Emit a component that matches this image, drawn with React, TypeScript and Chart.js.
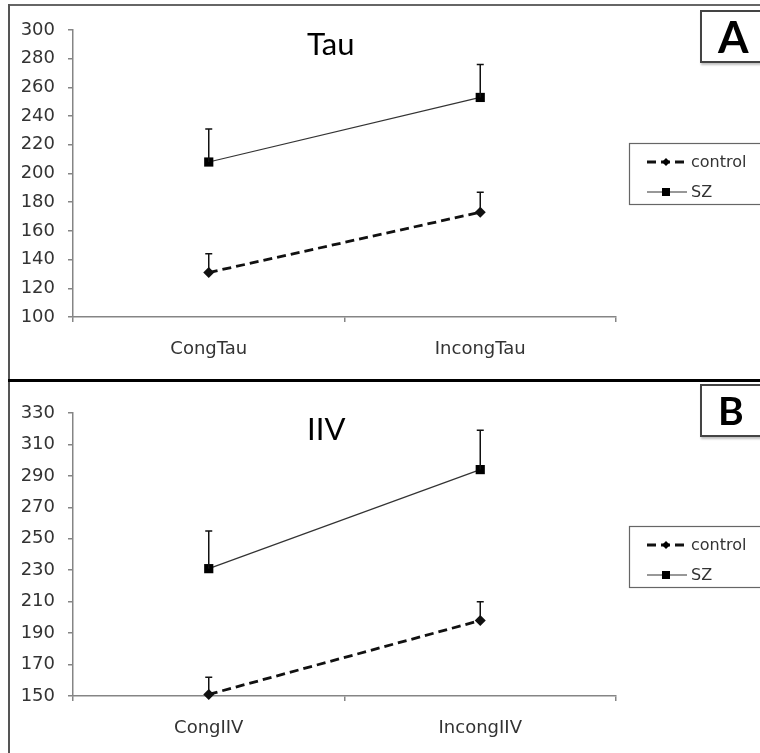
import React, { useEffect, useRef } from "react";
import { Chart, registerables } from "chart.js";

Chart.register(...registerables);

// ---- Panel A (Tau) ----
const categoriesA = ["CongTau", "IncongTau"];
const controlA = [131, 173];
const szA = [208, 253];
const controlErrA = [13, 14];
const szErrA = [23, 23];
const yTicksA = { min: 100, max: 300, step: 20 };

// ---- Panel B (IIV) ----
const categoriesB = ["CongIIV", "IncongIIV"];
const controlB = [151, 198];
const szB = [231, 294];
const controlErrB = [11, 12];
const szErrB = [24, 25];
const yTicksB = { min: 150, max: 330, step: 20 };

const seriesNames = ["control", "SZ"];

const TICK_FONT = { family: "'DejaVu Sans', sans-serif", size: 18 };
const TICK_COLOR = "#333";
const AXIS_COLOR = "#858585";

const errorBarPlugin = {
  id: "errorBars",
  afterDatasetsDraw(chart: any) {
    const ctx = chart.ctx;
    const xs = chart.scales.x;
    const ys = chart.scales.y;
    ctx.save();
    ctx.strokeStyle = "#111";
    ctx.lineWidth = 1.5;
    chart.data.datasets.forEach((ds: any) => {
      const errs = ds.errors || [];
      ds.data.forEach((v: number, i: number) => {
        const e = errs[i];
        if (e == null) return;
        const x = xs.getPixelForValue(i);
        const y0 = ys.getPixelForValue(v);
        const y1 = ys.getPixelForValue(v + e);
        ctx.beginPath();
        ctx.moveTo(x, y0);
        ctx.lineTo(x, y1);
        ctx.moveTo(x - 3.5, y1);
        ctx.lineTo(x + 3.5, y1);
        ctx.stroke();
      });
    });
    ctx.restore();
  },
};

const panelTextPlugin = {
  id: "panelText",
  afterDraw(chart: any, _args: any, opts: any) {
    const ctx = chart.ctx;
    const ca = chart.chartArea;
    ctx.save();
    // title
    ctx.fillStyle = "#000";
    ctx.font = "31px Lato, 'Open Sans', sans-serif";
    ctx.textAlign = "left";
    ctx.textBaseline = "alphabetic";
    ctx.fillText(opts.title, ca.left + 0.431 * (ca.right - ca.left), ca.top + opts.titleDy);

    // legend box
    const bx = ca.right + 13;
    const by = ca.top + 113;
    ctx.strokeStyle = "#666";
    ctx.lineWidth = 1.2;
    ctx.strokeRect(bx + 0.5, by + 0.5, 200, 61);

    const dsets = chart.data.datasets;
    const rows = [by + 19, by + 49];
    dsets.forEach((ds: any, k: number) => {
      const yy = rows[k];
      ctx.save();
      ctx.strokeStyle = ds.borderColor;
      ctx.lineWidth = ds.borderWidth;
      ctx.setLineDash(ds.borderDash || []);
      ctx.beginPath();
      ctx.moveTo(bx + 18, yy);
      ctx.lineTo(bx + 58, yy);
      ctx.stroke();
      ctx.restore();
      ctx.fillStyle = "#000";
      ctx.beginPath();
      if (ds.pointStyle === "rect") {
        ctx.rect(bx + 37 - 4, yy - 4, 8, 8);
      } else {
        ctx.moveTo(bx + 37, yy - 4);
        ctx.lineTo(bx + 41, yy);
        ctx.lineTo(bx + 37, yy + 4);
        ctx.lineTo(bx + 33, yy);
        ctx.closePath();
      }
      ctx.fill();
      ctx.fillStyle = "#333";
      ctx.font = "16px 'DejaVu Sans', sans-serif";
      ctx.textBaseline = "middle";
      ctx.fillText(ds.label, bx + 62, yy + 1);
    });
    ctx.restore();
  },
};

function makeConfig(
  cats: string[],
  ctrl: number[],
  ctrlErr: number[],
  sz: number[],
  szErr: number[],
  yt: { min: number; max: number; step: number },
  title: string,
  topPad: number,
  xHeight: number,
  titleDy: number
): any {
  return {
    type: "line",
    data: {
      labels: cats,
      datasets: [
        {
          label: seriesNames[0],
          data: ctrl,
          errors: ctrlErr,
          borderColor: "#111",
          backgroundColor: "#111",
          borderWidth: 2.8,
          borderDash: [9, 5],
          pointStyle: "rectRot",
          pointRadius: 5.5,
          pointBorderWidth: 0,
          pointBackgroundColor: "#111",
          clip: false,
        },
        {
          label: seriesNames[1],
          data: sz,
          errors: szErr,
          borderColor: "#333",
          backgroundColor: "#000",
          borderWidth: 1.2,
          pointStyle: "rect",
          pointRadius: 6.5,
          pointBorderWidth: 0,
          pointBackgroundColor: "#000",
          clip: false,
        },
      ],
    },
    options: {
      responsive: false,
      animation: false,
      events: [],
      layout: { padding: { left: 0, right: 144, top: topPad, bottom: 0 } },
      plugins: {
        legend: { display: false },
        tooltip: { enabled: false },
        title: { display: false },
        panelText: { title, titleDy },
      },
      scales: {
        x: {
          type: "category",
          offset: true,
          grid: {
            offset: true,
            drawOnChartArea: false,
            drawTicks: true,
            tickLength: 5,
            color: AXIS_COLOR,
            lineWidth: 1.5,
          },
          border: { color: AXIS_COLOR, width: 1.5 },
          ticks: { font: TICK_FONT, color: TICK_COLOR, padding: 17, autoSkip: false, maxRotation: 0 },
          afterFit: (s: any) => {
            s.height = xHeight;
          },
        },
        y: {
          min: yt.min,
          max: yt.max,
          grid: {
            drawOnChartArea: false,
            drawTicks: true,
            tickLength: 5,
            color: AXIS_COLOR,
            lineWidth: 1.5,
          },
          border: { color: AXIS_COLOR, width: 1.5 },
          ticks: { stepSize: yt.step, font: TICK_FONT, color: TICK_COLOR, padding: 13 },
          afterFit: (s: any) => {
            s.width = 73;
          },
        },
      },
    },
    plugins: [errorBarPlugin, panelTextPlugin],
  };
}

function Panel(props: { config: any; width: number; height: number; top: number }) {
  const ref = useRef<HTMLCanvasElement | null>(null);
  useEffect(() => {
    if (!ref.current) return;
    const chart = new Chart(ref.current, props.config);
    return () => chart.destroy();
  }, []);
  return (
    <canvas
      ref={ref}
      width={props.width}
      height={props.height}
      style={{ position: "absolute", left: 0, top: props.top, width: props.width, height: props.height }}
    />
  );
}

export default function App() {
  const cfgA = makeConfig(categoriesA, controlA, controlErrA, szA, szErrA, yTicksA, "Tau", 30, 61, 25);
  const cfgB = makeConfig(categoriesB, controlB, controlErrB, szB, szErrB, yTicksB, "IIV", 31, 57, 27);
  const labelBox = (text: string, top: number, h: number, size: number) => (
    <div
      style={{
        position: "absolute",
        left: 700,
        top,
        width: 90,
        height: h,
        boxSizing: "border-box",
        border: "2px solid #444",
        background: "#fff",
        boxShadow: "1px 2px 2px rgba(0,0,0,0.25)",
        fontFamily: "Lato, 'Open Sans', sans-serif",
        fontWeight: 700,
        fontSize: size,
        lineHeight: `${h - 4}px`,
        paddingLeft: 16,
        color: "#000",
      }}
    >
      {text}
    </div>
  );
  return (
    <div
      style={{
        position: "absolute",
        left: 0,
        top: 0,
        width: 760,
        height: 753,
        overflow: "hidden",
        background: "#fff",
      }}
    >
      <Panel config={cfgA} width={760} height={378} top={0} />
      <Panel config={cfgB} width={760} height={371} top={382} />
      {/* frame lines */}
      <div style={{ position: "absolute", left: 8, top: 4, width: 800, height: 0, borderTop: "2px solid #666" }} />
      <div style={{ position: "absolute", left: 8, top: 4, width: 0, height: 760, borderLeft: "2px solid #555" }} />
      <div style={{ position: "absolute", left: 8, top: 379, width: 800, height: 3, background: "#000" }} />
      {labelBox("A", 10, 53, 44)}
      {labelBox("B", 384, 53, 39)}
    </div>
  );
}
